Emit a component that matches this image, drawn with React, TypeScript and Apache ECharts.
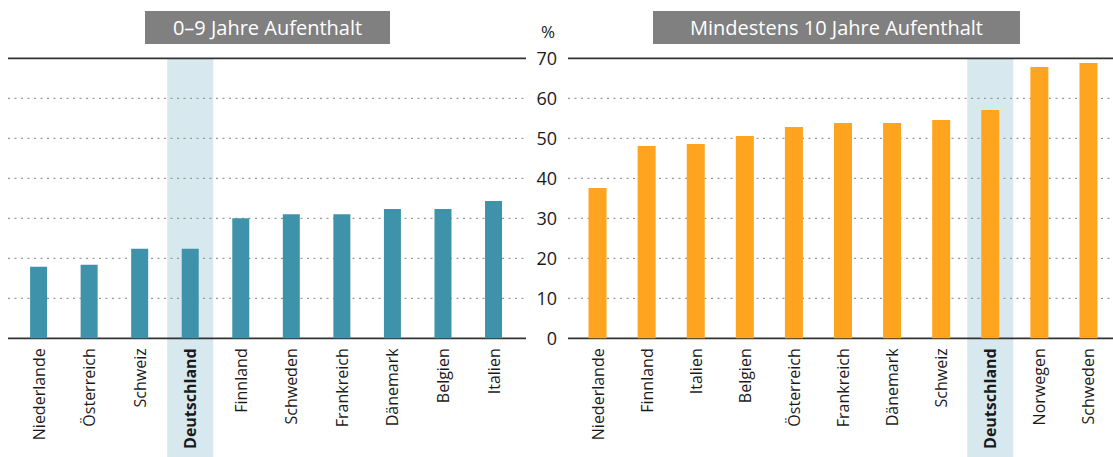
import React, { useEffect, useRef } from 'react';
import * as echarts from 'echarts';

const leftCategories = ['Niederlande', 'Österreich', 'Schweiz', 'Deutschland', 'Finnland', 'Schweden', 'Frankreich', 'Dänemark', 'Belgien', 'Italien'];
const leftValues = [17.9, 18.4, 22.4, 22.4, 30.0, 31.0, 31.0, 32.3, 32.3, 34.3];
const rightCategories = ['Niederlande', 'Finnland', 'Italien', 'Belgien', 'Österreich', 'Frankreich', 'Dänemark', 'Schweiz', 'Deutschland', 'Norwegen', 'Schweden'];
const rightValues = [37.6, 48.1, 48.6, 50.6, 52.8, 53.8, 53.8, 54.6, 57.1, 67.8, 68.8];
const yTicks = [0, 10, 20, 30, 40, 50, 60, 70];
const leftTitle = '0–9 Jahre Aufenthalt';
const rightTitle = 'Mindestens 10 Jahre Aufenthalt';
const highlightCategory = 'Deutschland';
const unitLabel = '%';

const FONT = '"Open Sans", "Noto Sans", sans-serif';
const TEXT = '#1a1a1a';

export default function App() {
  const ref = useRef<HTMLDivElement>(null);
  useEffect(() => {
    if (!ref.current) return;
    const chart = echarts.init(ref.current, null, { renderer: 'svg' });
    const catLabel = (name: string) => (name === highlightCategory ? `{b|${name}}` : name);
    const xAxisBase = {
      type: 'category' as const,
      axisLine: { show: false },
      axisTick: { show: false },
      splitLine: { show: false },
      z: 5,
      axisLabel: {
        rotate: 90,
        margin: 10,
        fontSize: 16,
        color: TEXT,
        fontFamily: FONT,
        formatter: catLabel,
        rich: { b: { fontWeight: 'bold', fontSize: 16, color: TEXT, fontFamily: FONT } },
      },
    };
    chart.setOption({
      animation: false,
      backgroundColor: '#ffffff',
      grid: [
        { left: 13.3, width: 505.5, top: 58.3, height: 280 },
        { left: 573, width: 545.6, top: 58.3, height: 280 },
      ],
      xAxis: [
        { ...xAxisBase, gridIndex: 0, data: leftCategories },
        { ...xAxisBase, gridIndex: 1, data: rightCategories },
      ],
      yAxis: [
        {
          type: 'value', gridIndex: 0, min: 0, max: 70, interval: 10,
          axisLabel: { show: false }, axisLine: { show: false }, axisTick: { show: false }, splitLine: { show: false },
        },
        {
          type: 'value', gridIndex: 1, min: 0, max: 70, interval: 10,
          axisLine: { show: false }, axisTick: { show: false }, splitLine: { show: false },
          axisLabel: { margin: 16, fontSize: 18, color: TEXT, fontFamily: FONT },
          name: unitLabel,
          nameLocation: 'end',
          nameGap: 18,
          nameTextStyle: { align: 'right', padding: [0, 18, 0, 0], fontSize: 17, color: TEXT, fontFamily: FONT },
        },
      ],
      series: [
        {
          type: 'bar', xAxisIndex: 0, yAxisIndex: 0, data: leftValues,
          barWidth: 17, itemStyle: { color: '#3e93ab' }, z: 3,
        },
        {
          type: 'bar', xAxisIndex: 1, yAxisIndex: 1, data: rightValues,
          barWidth: 18, itemStyle: { color: '#ffa41e' }, z: 3,
        },
      ],
    });

    const graphics: any[] = [];
    const yTop = chart.convertToPixel({ yAxisIndex: 1 }, 70) as number;
    [0, 1].forEach((i) => {
      const cx = chart.convertToPixel({ xAxisIndex: i }, highlightCategory) as number;
      graphics.push({
        type: 'rect', z: 0, silent: true,
        shape: { x: cx - 23, y: yTop, width: 46, height: 457 - yTop },
        style: { fill: '#d7e9ee' },
      });
    });
    yTicks.forEach((v) => {
      const y = chart.convertToPixel({ yAxisIndex: 1 }, v) as number;
      const solid = v === 0 || v === 70;
      const style = solid
        ? { stroke: '#333333', lineWidth: 1.7 }
        : { stroke: '#9a9a9a', lineWidth: 1.3, lineDash: [2, 4.5] };
      graphics.push({ type: 'line', z: 1, silent: true, shape: { x1: 8, y1: y, x2: 526, y2: y }, style });
      graphics.push({ type: 'line', z: 1, silent: true, shape: { x1: 568, y1: y, x2: 1113, y2: y }, style });
    });
    const titleBox = (x: number, w: number, text: string) => ({
      type: 'group', z: 4,
      children: [
        { type: 'rect', shape: { x, y: 11, width: w, height: 33 }, style: { fill: '#808080' } },
        {
          type: 'text', x: x + w / 2, y: 27.5,
          style: { text, fill: '#ffffff', fontSize: 20, fontFamily: FONT, align: 'center', verticalAlign: 'middle' },
        },
      ],
    });
    graphics.push(titleBox(145, 245, leftTitle));
    graphics.push(titleBox(653, 367, rightTitle));
    chart.setOption({ graphic: graphics });

    return () => chart.dispose();
  }, []);
  return <div ref={ref} style={{ position: 'fixed', left: 0, top: 0, width: 1113, height: 457 }} />;
}
